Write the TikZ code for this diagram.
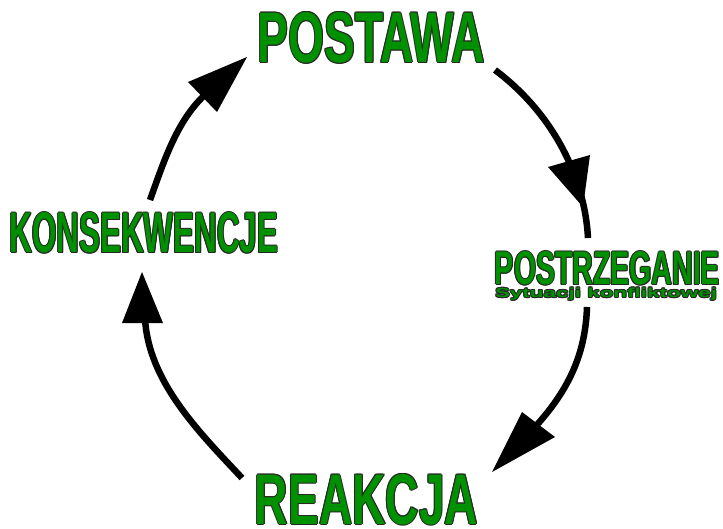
\documentclass[tikz,border=0pt]{standalone}
\usepackage{fontspec}
\setmainfont{Liberation Sans}
\usepackage{graphicx}
\definecolor{lblgreen}{RGB}{0,145,0}
\definecolor{lbledge}{RGB}{40,40,40}
\newcommand\outlined[3]{%
  \begingroup
  \setbox0=\hbox{\resizebox{#1}{#2}{\bfseries #3}}%
  \def\od{1pt}\def\oe{0.7pt}%
  \rlap{\color{lbledge}\kern\od\copy0}%
  \rlap{\color{lbledge}\kern-\od\copy0}%
  \rlap{\color{lbledge}\raise\od\copy0}%
  \rlap{\color{lbledge}\lower\od\copy0}%
  \rlap{\color{lbledge}\kern\oe\raise\oe\copy0}%
  \rlap{\color{lbledge}\kern\oe\lower\oe\copy0}%
  \rlap{\color{lbledge}\kern-\oe\raise\oe\copy0}%
  \rlap{\color{lbledge}\kern-\oe\lower\oe\copy0}%
  {\color{lblgreen}\copy0}%
  \endgroup}
\begin{document}
\begin{tikzpicture}[x=1pt,y=-1pt,
  lbl/.style={inner sep=0pt, outer sep=0pt},
  arcline/.style={line width=6.5pt, black},
  head/.style={fill=black}]
\useasboundingbox (0,0) rectangle (723,528);
% labels
\node[lbl] (postawa) at (371.5,38) {\outlined{227pt}{50pt}{POSTAWA}};
\node[lbl] (postrz) at (607.5,268.5) {\outlined{225pt}{33pt}{POSTRZEGANIE}};
\node[lbl, anchor=base west] (sytuacji) at (495,297.5) {\outlined{222pt}{9.5pt}{Sytuacji konfliktowej}};
\node[lbl] (konsek) at (144,233) {\outlined{268pt}{40pt}{KONSEKWENCJE}};
\node[lbl] (reakcja) at (366.5,499.5) {\outlined{223pt}{50pt}{REAKCJA}};
% arc end points
\coordinate (a1s) at (150,200);
\coordinate (a1e) at (208,92);
\coordinate (a2s) at (495,70);
\coordinate (a2e) at (588,238);
\coordinate (a3s) at (587,307);
\coordinate (a3e) at (510,452);
\coordinate (a4s) at (242,478);
\coordinate (a4e) at (145,318);
% arcs
\draw[arcline] (a1s) .. controls (165,158) and (178,118) .. (a1e);
\draw[arcline] (a2s) .. controls (555,115) and (585,180) .. (a2e);
\draw[arcline] (a3s) .. controls (585,370) and (555,410) .. (a3e);
\draw[arcline] (a4s) .. controls (201,434) and (148,382) .. (a4e);
% arrow heads
\fill[head] (188,82) -- (217,112) -- (247,57) -- cycle;
\fill[head] (548,167) -- (590,155) -- (583,207) -- cycle;
\fill[head] (522,412) -- (555,437) -- (492,472) -- cycle;
\fill[head] (122,323) -- (163,323) -- (142,272) -- cycle;
\end{tikzpicture}
\end{document}
